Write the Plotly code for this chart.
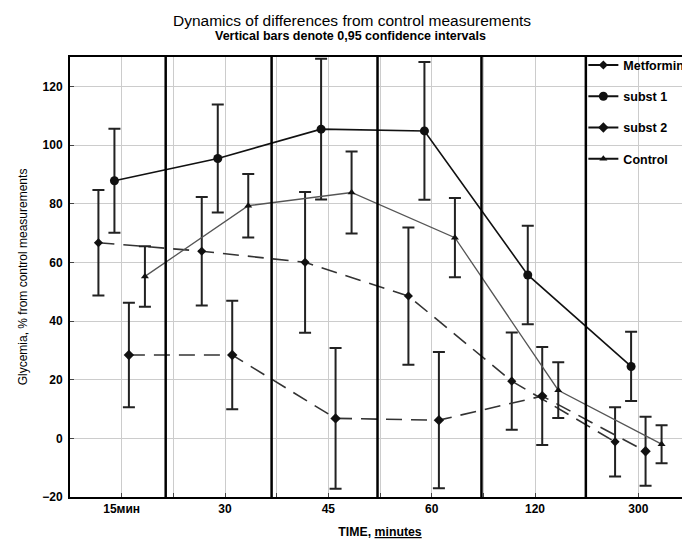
import plotly.graph_objects as go

categories = ["15мин", "30", "45", "60", "120", "300"]
series_names = ["Metformine", "subst 1", "subst 2", "Control"]

metformine_mean = [66.7, 63.8, 60.0, 48.5, 19.5, -1.2]
metformine_ci   = [18.0, 18.5, 24.0, 23.4, 16.6, 11.8]
subst1_mean     = [87.8, 95.4, 105.4, 104.8, 55.7, 24.5]
subst1_ci       = [17.7, 18.4, 24.0, 23.5, 16.8, 11.8]
subst2_mean     = [28.4, 28.4, 6.8, 6.2, 14.4, -4.4]
subst2_ci       = [17.8, 18.5, 24.0, 23.2, 16.7, 11.8]
control_mean    = [55.2, 79.3, 83.8, 68.4, 16.4, -2.0]
control_ci      = [10.3, 10.8, 14.0, 13.5, 9.5, 6.5]

y_ticks = [-20, 0, 20, 40, 60, 80, 100, 120]

means = [metformine_mean, subst1_mean, subst2_mean, control_mean]
cis = [metformine_ci, subst1_ci, subst2_ci, control_ci]
offsets = [-0.225, -0.07, 0.07, 0.225]
symbols = ["diamond", "circle", "diamond", "triangle-up"]
msizes = [7, 9, 8, 7]
dashes = ["16px,9px", "solid", "16px,9px", "solid"]
lcolors = ["#333333", "#111111", "#333333", "#555555"]
lwidths = [1.6, 1.6, 1.6, 1.3]

fig = go.Figure()
for name, m, c, off, sym, ms, dsh, lc, lw in zip(series_names, means, cis, offsets,
                                                symbols, msizes, dashes, lcolors, lwidths):
    xs = [i + off for i in range(len(categories))]
    fig.add_trace(go.Scatter(
        x=xs, y=m, mode="lines+markers", showlegend=False,
        line=dict(color=lc, width=lw, dash=dsh),
        marker=dict(symbol=sym, size=ms, color="#111111"),
        error_y=dict(type="data", array=c, visible=True, color="#222222",
                     thickness=2, width=6),
    ))
    fig.add_trace(go.Scatter(
        x=[None], y=[None], mode="lines+markers", name=name, legendgroup=name,
        line=dict(color="#111111", width=2),
        marker=dict(symbol=sym, size=ms, color="#111111"),
    ))

# thick group separators
for xv in [0.426, 1.451, 2.476, 3.482, 4.492]:
    fig.add_shape(type="line", xref="x", yref="paper", x0=xv, x1=xv, y0=0, y1=1,
                  line=dict(color="black", width=2.5))

fig.add_annotation(text="Dynamics of differences from control measurements",
                   xref="paper", yref="paper", x=0.455, y=1, yshift=37,
                   xanchor="center", yanchor="middle",
                   showarrow=False, font=dict(size=15.5, color="black", family="Liberation Sans"))
fig.add_annotation(text="<b>Vertical bars denote 0,95 confidence intervals</b>",
                   xref="paper", yref="paper", x=0.452, y=1, yshift=21,
                   xanchor="center", yanchor="middle",
                   showarrow=False, font=dict(size=12.5, color="black", family="Liberation Sans"))

fig.update_layout(
    width=690, height=542,
    margin=dict(l=62, r=8, t=49, b=53, autoexpand=False),
    plot_bgcolor="white", paper_bgcolor="white",
    font=dict(family="Liberation Sans", color="black"),
    legend=dict(x=0.828, xanchor="left", y=1.015, yanchor="top", bgcolor="rgba(0,0,0,0)",
                font=dict(size=12.5, weight="bold"), tracegroupgap=12, itemwidth=30,
                traceorder="grouped"),
    xaxis=dict(
        range=[-0.5, 5.5], tickvals=list(range(len(categories))), ticktext=categories,
        showgrid=True, gridcolor="#cccccc", gridwidth=1, automargin=False,
        minor=dict(dtick=0.5, tick0=0, showgrid=True, gridcolor="#cccccc", ticks="inside", ticklen=4),
        ticks="inside", ticklen=4, showline=True, linecolor="black", linewidth=2, mirror=True,
        zeroline=False, tickfont=dict(size=12, weight="bold"),
        title=dict(text="<b>TIME, <span style='text-decoration:underline'>minutes</span></b>",
                   font=dict(size=12.3), standoff=12),
    ),
    yaxis=dict(
        range=[-20, 130], tickvals=y_ticks,
        showgrid=True, gridcolor="#cccccc", gridwidth=1, automargin=False,
        ticks="inside", ticklen=4, showline=True, linecolor="black", linewidth=2, mirror=True,
        zeroline=False, tickfont=dict(size=12, weight="bold"), ticklabelstandoff=3,
        title=dict(text="Glycemia, % from control measurements", font=dict(size=12), standoff=12),
    ),
)

fig.write_html("out.html")
